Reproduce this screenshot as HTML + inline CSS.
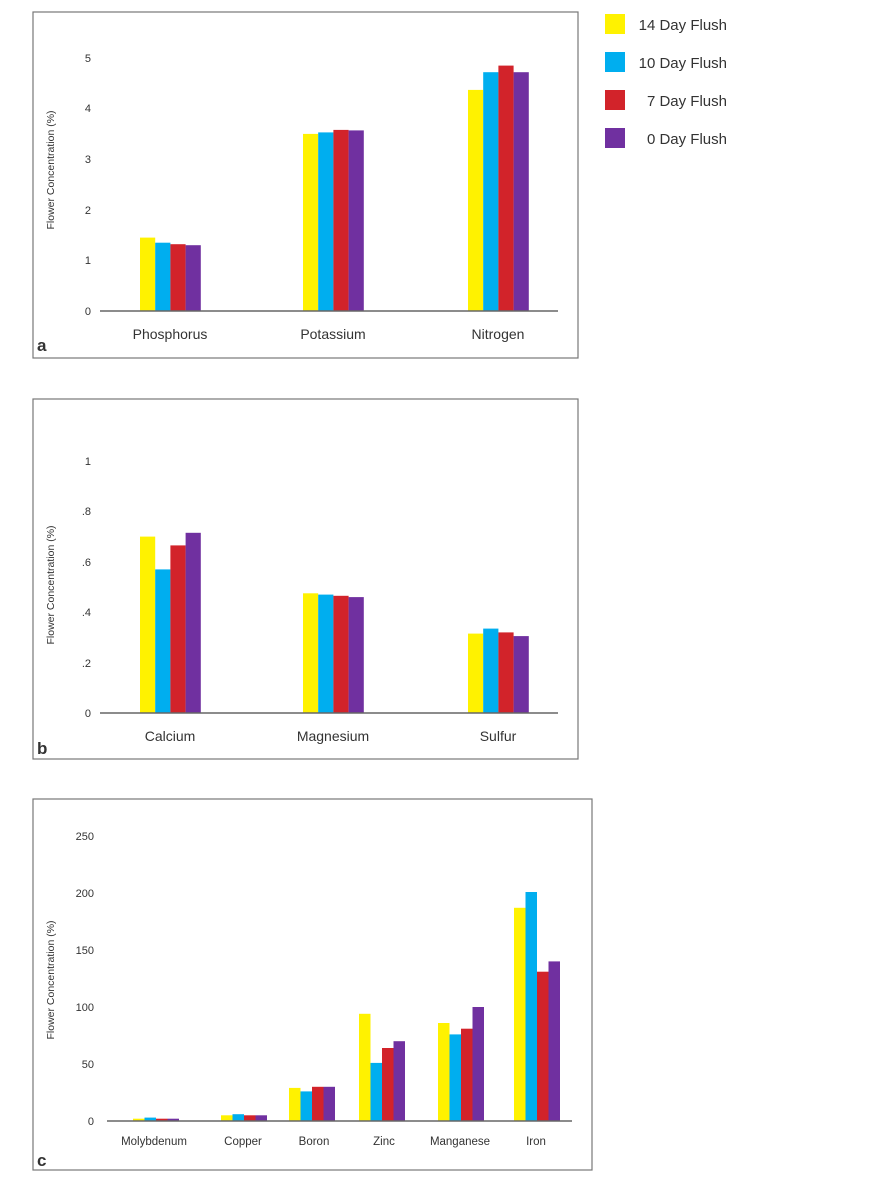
<!DOCTYPE html>
<html><head><meta charset="utf-8"><style>
body{margin:0;background:#fff;}
svg{display:block;font-family:"Liberation Sans",sans-serif;}
</style></head><body>
<svg width="878" height="1181" viewBox="0 0 878 1181" xmlns="http://www.w3.org/2000/svg">
<defs>
<style>
.box{fill:none;stroke:#777;stroke-width:1.2}
.ax{stroke:#666;stroke-width:1.5}
.tk{font-size:11px;fill:#333;text-anchor:end}
.cat{font-size:14px;fill:#333;text-anchor:middle}
.catc{font-size:11.5px;fill:#333;text-anchor:middle}
.yt{font-size:10.5px;fill:#333;text-anchor:middle}
.pl{font-size:17px;font-weight:bold;fill:#333}
.y{fill:#fff200}.b{fill:#00aeef}.r{fill:#d2232a}.p{fill:#7030a0}
.lg{font-size:15px;fill:#333;text-anchor:end}
</style>
</defs>
<!-- Legend -->
<rect class="y" x="605" y="14" width="20" height="20"/>
<rect class="b" x="605" y="52" width="20" height="20"/>
<rect class="r" x="605" y="90" width="20" height="20"/>
<rect class="p" x="605" y="128" width="20" height="20"/>
<text class="lg" x="727" y="30">14 Day Flush</text>
<text class="lg" x="727" y="68">10 Day Flush</text>
<text class="lg" x="727" y="106">7 Day Flush</text>
<text class="lg" x="727" y="144">0 Day Flush</text>

<!-- Panel a -->
<rect class="box" x="33" y="12" width="545" height="346"/>
<text class="yt" transform="translate(54,170) rotate(-90)">Flower Concentration (%)</text>
<g class="tk">
<text x="91" y="315">0</text><text x="91" y="264">1</text><text x="91" y="214">2</text>
<text x="91" y="163">3</text><text x="91" y="112">4</text><text x="91" y="62">5</text>
</g>
<!-- scale: y=311 - v*50.6 -->
<rect class="y" x="140" y="237.6" width="15.2" height="73.4"/>
<rect class="b" x="155.2" y="242.7" width="15.2" height="68.3"/>
<rect class="r" x="170.4" y="244.2" width="15.2" height="66.8"/>
<rect class="p" x="185.6" y="245.2" width="15.2" height="65.8"/>
<rect class="y" x="303" y="133.9" width="15.2" height="177.1"/>
<rect class="b" x="318.2" y="132.4" width="15.2" height="178.6"/>
<rect class="r" x="333.4" y="129.9" width="15.2" height="181.1"/>
<rect class="p" x="348.6" y="130.4" width="15.2" height="180.6"/>
<rect class="y" x="468" y="89.9" width="15.2" height="221.1"/>
<rect class="b" x="483.2" y="72.2" width="15.2" height="238.8"/>
<rect class="r" x="498.4" y="65.6" width="15.2" height="245.4"/>
<rect class="p" x="513.6" y="72.2" width="15.2" height="238.8"/>
<line class="ax" x1="100" y1="311" x2="558" y2="311"/>
<text class="cat" x="170" y="339">Phosphorus</text>
<text class="cat" x="333" y="339">Potassium</text>
<text class="cat" x="498" y="339">Nitrogen</text>
<text class="pl" x="37" y="351">a</text>

<!-- Panel b -->
<rect class="box" x="33" y="399" width="545" height="360"/>
<text class="yt" transform="translate(54,585) rotate(-90)">Flower Concentration (%)</text>
<g class="tk">
<text x="91" y="717">0</text><text x="91" y="667">.2</text><text x="91" y="616">.4</text>
<text x="91" y="566">.6</text><text x="91" y="515">.8</text><text x="91" y="465">1</text>
</g>
<!-- scale: y=713 - v*252 -->
<rect class="y" x="140" y="536.6" width="15.2" height="176.4"/>
<rect class="b" x="155.2" y="569.4" width="15.2" height="143.6"/>
<rect class="r" x="170.4" y="545.4" width="15.2" height="167.6"/>
<rect class="p" x="185.6" y="532.8" width="15.2" height="180.2"/>
<rect class="y" x="303" y="593.3" width="15.2" height="119.7"/>
<rect class="b" x="318.2" y="594.6" width="15.2" height="118.4"/>
<rect class="r" x="333.4" y="595.8" width="15.2" height="117.2"/>
<rect class="p" x="348.6" y="597.1" width="15.2" height="115.9"/>
<rect class="y" x="468" y="633.6" width="15.2" height="79.4"/>
<rect class="b" x="483.2" y="628.6" width="15.2" height="84.4"/>
<rect class="r" x="498.4" y="632.4" width="15.2" height="80.6"/>
<rect class="p" x="513.6" y="636.1" width="15.2" height="76.9"/>
<line class="ax" x1="100" y1="713" x2="558" y2="713"/>
<text class="cat" x="170" y="741">Calcium</text>
<text class="cat" x="333" y="741">Magnesium</text>
<text class="cat" x="498" y="741">Sulfur</text>
<text class="pl" x="37" y="754">b</text>

<!-- Panel c -->
<rect class="box" x="33" y="799" width="559" height="371"/>
<text class="yt" transform="translate(54,980) rotate(-90)">Flower Concentration (%)</text>
<g class="tk">
<text x="94" y="1125">0</text><text x="94" y="1068">50</text><text x="94" y="1011">100</text>
<text x="94" y="954">150</text><text x="94" y="897">200</text><text x="94" y="840">250</text>
</g>
<!-- scale: y=1121 - v*1.14 -->
<g>
<rect class="y" x="133" y="1118.7" width="11.5" height="2.3"/>
<rect class="b" x="144.5" y="1117.6" width="11.5" height="3.4"/>
<rect class="r" x="156" y="1118.7" width="11.5" height="2.3"/>
<rect class="p" x="167.5" y="1118.7" width="11.5" height="2.3"/>

<rect class="y" x="221" y="1115.3" width="11.5" height="5.7"/>
<rect class="b" x="232.5" y="1114.2" width="11.5" height="6.8"/>
<rect class="r" x="244" y="1115.3" width="11.5" height="5.7"/>
<rect class="p" x="255.5" y="1115.3" width="11.5" height="5.7"/>

<rect class="y" x="289" y="1087.9" width="11.5" height="33.1"/>
<rect class="b" x="300.5" y="1091.4" width="11.5" height="29.6"/>
<rect class="r" x="312" y="1086.8" width="11.5" height="34.2"/>
<rect class="p" x="323.5" y="1086.8" width="11.5" height="34.2"/>

<rect class="y" x="359" y="1013.8" width="11.5" height="107.2"/>
<rect class="b" x="370.5" y="1062.9" width="11.5" height="58.1"/>
<rect class="r" x="382" y="1048.0" width="11.5" height="73.0"/>
<rect class="p" x="393.5" y="1041.2" width="11.5" height="79.8"/>

<rect class="y" x="438" y="1023.0" width="11.5" height="98.0"/>
<rect class="b" x="449.5" y="1034.4" width="11.5" height="86.6"/>
<rect class="r" x="461" y="1028.7" width="11.5" height="92.3"/>
<rect class="p" x="472.5" y="1007.0" width="11.5" height="114.0"/>

<rect class="y" x="514" y="907.8" width="11.5" height="213.2"/>
<rect class="b" x="525.5" y="892.0" width="11.5" height="229.0"/>
<rect class="r" x="537" y="971.7" width="11.5" height="149.3"/>
<rect class="p" x="548.5" y="961.4" width="11.5" height="159.6"/>
</g>
<line class="ax" x1="107" y1="1121" x2="572" y2="1121"/>
<text class="catc" x="154" y="1145">Molybdenum</text>
<text class="catc" x="243" y="1145">Copper</text>
<text class="catc" x="314" y="1145">Boron</text>
<text class="catc" x="384" y="1145">Zinc</text>
<text class="catc" x="460" y="1145">Manganese</text>
<text class="catc" x="536" y="1145">Iron</text>
<text class="pl" x="37" y="1166">c</text>
</svg>
</body></html>
